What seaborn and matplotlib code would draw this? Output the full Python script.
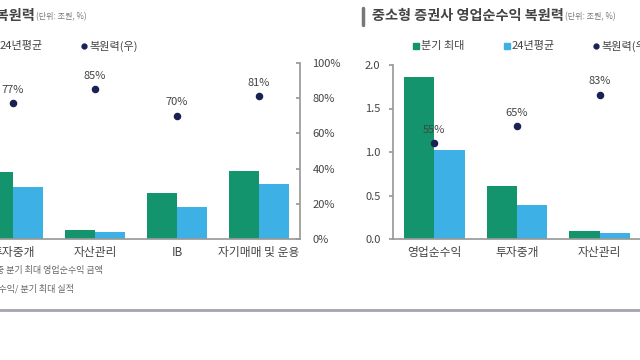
import seaborn as sns
import pandas as pd
import matplotlib.pyplot as plt
from matplotlib.lines import Line2D
from matplotlib.patches import Rectangle

# 대형 증권사 (왼쪽, 잘린 패널)
big_cats = ["투자중개", "자산관리", "IB", "자기매매 및 운용"]
big_max = [1.90, 0.26, 1.31, 1.93]
big_avg = [1.48, 0.20, 0.91, 1.56]
big_ratio = [77, 85, 70, 81]

# 중소형 증권사 (오른쪽)
small_cats = ["영업순수익", "투자중개", "자산관리"]
small_max = [1.86, 0.61, 0.09]
small_avg = [1.02, 0.39, 0.07]
small_ratio = [55, 65, 83]

series = ["분기 최대", "24년평균"]
pct_ticks = [0, 20, 40, 60, 80, 100]
val_ticks = [0.0, 0.5, 1.0, 1.5, 2.0]

GREEN = "#13946c"
BLUE = "#3db1e6"
NAVY = "#1a2252"
GRAY = "#9a9a9a"
TXT = "#444444"

sns.set_theme(style="white")
plt.rcParams['font.family'] = ['Noto Sans CJK KR', 'DejaVu Sans']

W, H = 640, 360
fig = plt.figure(figsize=(6.4, 3.6), dpi=100)
renderer = fig.canvas.get_renderer()


def fx(px):
    return px / W


def fy(py):
    return 1 - py / H


def panel(rect, cats, mx, avg, ratio, ymax):
    ax = fig.add_axes(rect)
    df = pd.DataFrame({
        "cat": cats * 2,
        "val": mx + avg,
        "s": [series[0]] * len(cats) + [series[1]] * len(cats),
    })
    sns.barplot(data=df, x="cat", y="val", hue="s", hue_order=series,
                palette=[GREEN, BLUE], width=0.73, gap=0, saturation=1,
                linewidth=0, legend=False, ax=ax)
    ax.set_ylim(0, ymax)
    ax.set_xlabel("")
    ax.set_ylabel("")
    for s in ["top", "right", "left"]:
        ax.spines[s].set_visible(False)
    ax.spines["bottom"].set_color(GRAY)
    ax.tick_params(axis="x", which="major", length=0, labelsize=8.5,
                   labelcolor=TXT, pad=5)
    ax.set_xticks([i + 0.5 for i in range(len(cats) - 1)], minor=True)
    ax.tick_params(axis="x", which="minor", length=3, color=GRAY, direction="out")

    ax2 = ax.twinx()
    sns.pointplot(x=cats, y=ratio, color=NAVY, linestyle="none",
                  markersize=3.4, ax=ax2)
    ax2.set_ylim(0, 100)
    ax2.set_xlim(-0.5, len(cats) - 0.5)
    ax2.set_ylabel("")
    for s in ["top", "left", "bottom"]:
        ax2.spines[s].set_visible(False)
    ax2.spines["right"].set_color(GRAY)
    for i, r in enumerate(ratio):
        ax2.annotate(f"{r}%", (i, r), xytext=(0, 6), textcoords="offset points",
                     ha="center", va="bottom", fontsize=8, color=TXT)
    return ax, ax2


# 왼쪽 패널
axL, axL2 = panel([fx(-28), fy(239), fx(328), 176 / H],
                  big_cats, big_max, big_avg, big_ratio, 5.0)
axL.set_yticks([])
axL2.set_yticks(pct_ticks)
axL2.set_yticklabels([f"{t}%" for t in pct_ticks])
axL2.tick_params(axis="y", length=3, direction="in", color=GRAY,
                 labelsize=8, labelcolor=TXT, pad=9)

# 오른쪽 패널
axR, axR2 = panel([fx(393), fy(239), fx(248), 174 / H],
                  small_cats, small_max, small_avg, small_ratio, 2.0)
axR.spines["left"].set_visible(True)
axR.spines["left"].set_color(GRAY)
axR.set_yticks(val_ticks)
axR.set_yticklabels([f"{t:.1f}" for t in val_ticks])
axR.tick_params(axis="y", length=3, direction="out", color=GRAY,
                labelsize=8, labelcolor=TXT, pad=6)
axR2.spines["right"].set_visible(False)
axR2.set_yticks([])

# 제목
unit = "(단위: 조원, %)"
tL = fig.text(fx(35), fy(16), "대형 증권사 영업순수익 복원력", ha="right", va="center",
              fontsize=10.2, color=TXT, fontweight="bold")
fig.text(fx(36), fy(17), unit, ha="left", va="center",
         fontsize=5.8, color="#777777")
fig.add_artist(Line2D([fx(363), fx(363)], [fy(8), fy(25)], color="#777777", lw=2.5))
tR = fig.text(fx(372), fy(16), "중소형 증권사 영업순수익 복원력", ha="left", va="center",
              fontsize=10.2, color=TXT, fontweight="bold")
endR = tR.get_window_extent(renderer).x1
fig.text(endR / W + fx(1), fy(17), unit, ha="left", va="center",
         fontsize=5.8, color="#777777")


# 범례
def legend(x0):
    items = [(series[0], GREEN, "s"), (series[1], BLUE, "s"), ("복원력(우)", NAVY, "o")]
    offs = [0, 91, 180]
    for (lab, col, kind), o in zip(items, offs):
        x = x0 + o
        if kind == "s":
            fig.add_artist(Rectangle((fx(x - 3), fy(49)), fx(6), 6 / H, color=col))
        else:
            fig.add_artist(Line2D([fx(x)], [fy(46)], marker="o", color=col,
                                  markersize=3.5, linestyle="none"))
        fig.text(fx(x + 5), fy(46), lab, ha="left", va="center",
                 fontsize=8, color=TXT)


legend(-96)
legend(416)

# 주석
fig.text(fx(103), fy(270), "주: 2021년 이후 중 분기 최대 영업순수익 금액", ha="right",
         va="center", fontsize=6.5, color="#666666")
fig.text(fx(74), fy(289), "복원력 = 24년 평균 영업순수익/ 분기 최대 실적", ha="right",
         va="center", fontsize=6.5, color="#666666")

fig.add_artist(Line2D([0, 1], [fy(310), fy(310)], color="#a4a4ac", lw=2))

fig.savefig("out.png", dpi=100)
